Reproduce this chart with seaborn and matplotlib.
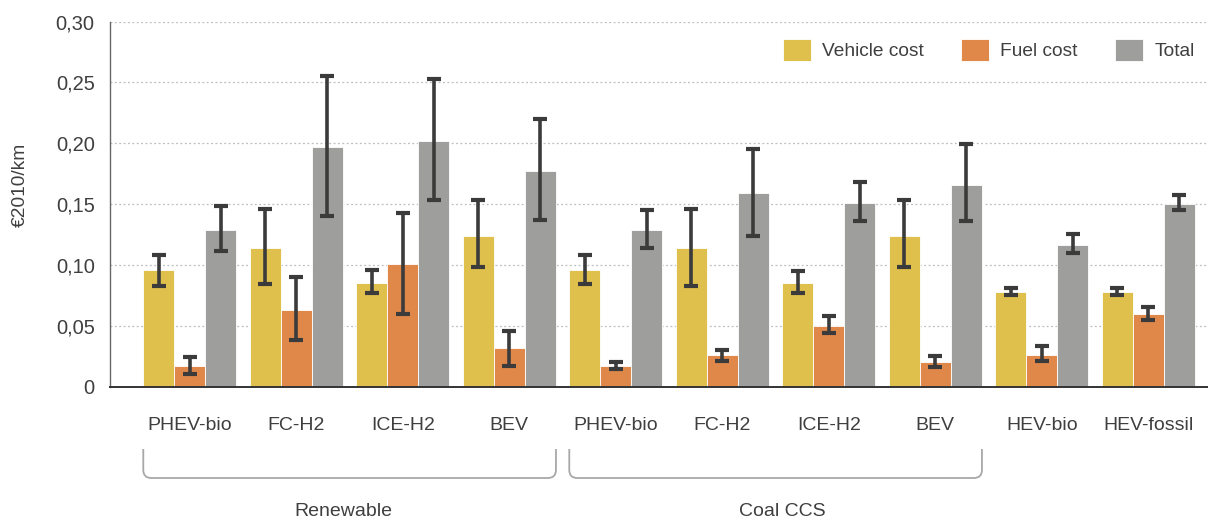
import matplotlib
matplotlib.use("Agg")
import matplotlib.pyplot as plt
from matplotlib.path import Path
from matplotlib.patches import PathPatch
from matplotlib.transforms import IdentityTransform
from matplotlib.ticker import FixedLocator, FixedFormatter
import seaborn as sns
import pandas as pd
import numpy as np

# Vehicle/fuel pathways (tick labels) and their group keys
tick_labels = ["PHEV-bio", "FC-H2", "ICE-H2", "BEV",
               "PHEV-bio", "FC-H2", "ICE-H2", "BEV",
               "HEV-bio", "HEV-fossil"]
keys = [f"{i}:{t}" for i, t in enumerate(tick_labels)]
series = ["Vehicle cost", "Fuel cost", "Total"]

vehicle_cost = [0.096, 0.114, 0.085, 0.124, 0.096, 0.114, 0.085, 0.124, 0.078, 0.078]
vehicle_lo   = [0.083, 0.084, 0.077, 0.098, 0.084, 0.083, 0.077, 0.098, 0.075, 0.075]
vehicle_hi   = [0.108, 0.146, 0.096, 0.153, 0.108, 0.146, 0.095, 0.153, 0.081, 0.081]

fuel_cost = [0.017, 0.063, 0.101, 0.032, 0.017, 0.026, 0.050, 0.020, 0.026, 0.060]
fuel_lo   = [0.010, 0.038, 0.060, 0.017, 0.014, 0.021, 0.044, 0.016, 0.021, 0.055]
fuel_hi   = [0.024, 0.090, 0.143, 0.046, 0.020, 0.030, 0.058, 0.025, 0.033, 0.065]

total_cost = [0.129, 0.197, 0.202, 0.177, 0.129, 0.159, 0.151, 0.166, 0.116, 0.150]
total_lo   = [0.111, 0.140, 0.153, 0.137, 0.114, 0.124, 0.136, 0.136, 0.110, 0.145]
total_hi   = [0.148, 0.255, 0.253, 0.220, 0.145, 0.195, 0.168, 0.199, 0.125, 0.157]

# Scenario groups: name, first and last pathway index, label centre (in category units)
groups = [("Renewable", 0, 3, 1.44), ("Coal CCS", 4, 7, 5.56)]
y_ticks = [0, 0.05, 0.10, 0.15, 0.20, 0.25, 0.30]
y_tick_labels = ["0", "0,05", "0,10", "0,15", "0,20", "0,25", "0,30"]

colors = ["#E0C04C", "#E0884A", "#9E9E9C"]
err_color = "#3B3B3B"
text_color = "#3F3F3F"

df = pd.DataFrame({
    "key": keys * 3,
    "series": np.repeat(series, len(keys)),
    "value": vehicle_cost + fuel_cost + total_cost,
})
lows = [vehicle_lo, fuel_lo, total_lo]
highs = [vehicle_hi, fuel_hi, total_hi]

sns.set_theme(style="white")
plt.rcParams["font.family"] = ["Liberation Sans", "DejaVu Sans"]

fig = plt.figure(figsize=(12.08, 5.2), dpi=100)
ax = fig.add_axes([110 / 1208, 1 - 386.5 / 520, 1 - 110 / 1208, (386.5 - 21.5) / 520])

sns.barplot(data=df, x="key", y="value", hue="series", order=keys,
            hue_order=series, palette=colors, errorbar=None, width=0.875,
            saturation=1, edgecolor="white", linewidth=0.6, ax=ax)

# Error bars on each bar, from the bars' own positions
for cont, lo, hi in zip(ax.containers, lows, highs):
    xs = [p.get_x() + p.get_width() / 2 for p in cont.patches]
    ys = [p.get_height() for p in cont.patches]
    yerr = [np.array(ys) - np.array(lo), np.array(hi) - np.array(ys)]
    ax.errorbar(xs, ys, yerr=yerr, fmt="none", ecolor=err_color,
                elinewidth=2.6, capsize=5.2, capthick=3.0, zorder=5)

ax.set_xlim(-0.75, 9.56)
ax.set_ylim(0, 0.30)
ax.yaxis.set_major_locator(FixedLocator(y_ticks))
ax.yaxis.set_major_formatter(FixedFormatter(y_tick_labels))
ax.set_xticks(range(len(keys)))
ax.set_xticklabels(tick_labels)
ax.tick_params(axis="x", length=0, pad=22, labelsize=14, labelcolor=text_color)
ax.tick_params(axis="y", length=3, width=0.8, color="#555555", pad=8,
               labelsize=14.5, labelcolor=text_color)
ax.grid(axis="y", linestyle=(0, (1.5, 2)), color="#BDBDBD", linewidth=0.9)
ax.set_axisbelow(True)
for side in ["top", "right"]:
    ax.spines[side].set_visible(False)
ax.spines["left"].set_color("#666666")
ax.spines["left"].set_linewidth(1.0)
ax.spines["bottom"].set_color("#333333")
ax.spines["bottom"].set_linewidth(1.4)
ax.set_xlabel("")
ax.set_ylabel("")
fig.text(20 / 1208, 1 - 185 / 520, "€2010/km", rotation=90, ha="center",
         va="center", fontsize=13.8, color=text_color)

leg = ax.legend(loc="upper right", bbox_to_anchor=(1.0, 0.99), ncol=3,
                frameon=False, fontsize=13.8, handlelength=1.46, handleheight=1.4,
                handletextpad=0.58, columnspacing=1.95, borderaxespad=0.3)
for t in leg.get_texts():
    t.set_color(text_color)

# Group brackets below the tick labels, drawn in display pixels
fig.canvas.draw()
H = fig.bbox.height
bar_half = 0.875 / 2
r = 8
for name, i0, i1, xc in groups:
    x0 = ax.transData.transform((i0 - bar_half, 0))[0]
    x1 = ax.transData.transform((i1 + bar_half, 0))[0]
    ytop = H - 449
    ybot = H - 478
    verts = [(x0, ytop), (x0, ybot + r), (x0, ybot), (x0 + r, ybot),
             (x1 - r, ybot), (x1, ybot), (x1, ybot + r), (x1, ytop)]
    codes = [Path.MOVETO, Path.LINETO, Path.CURVE3, Path.CURVE3,
             Path.LINETO, Path.CURVE3, Path.CURVE3, Path.LINETO]
    fig.add_artist(PathPatch(Path(verts, codes), facecolor="none",
                             edgecolor="#A8A8A8", linewidth=1.3,
                             transform=IdentityTransform()))
    xt = ax.transData.transform((xc, 0))[0]
    fig.text(xt / fig.bbox.width, 1 - 511 / 520, name,
             ha="center", va="center", fontsize=14, color=text_color)

fig.savefig("out.png", dpi=100)
